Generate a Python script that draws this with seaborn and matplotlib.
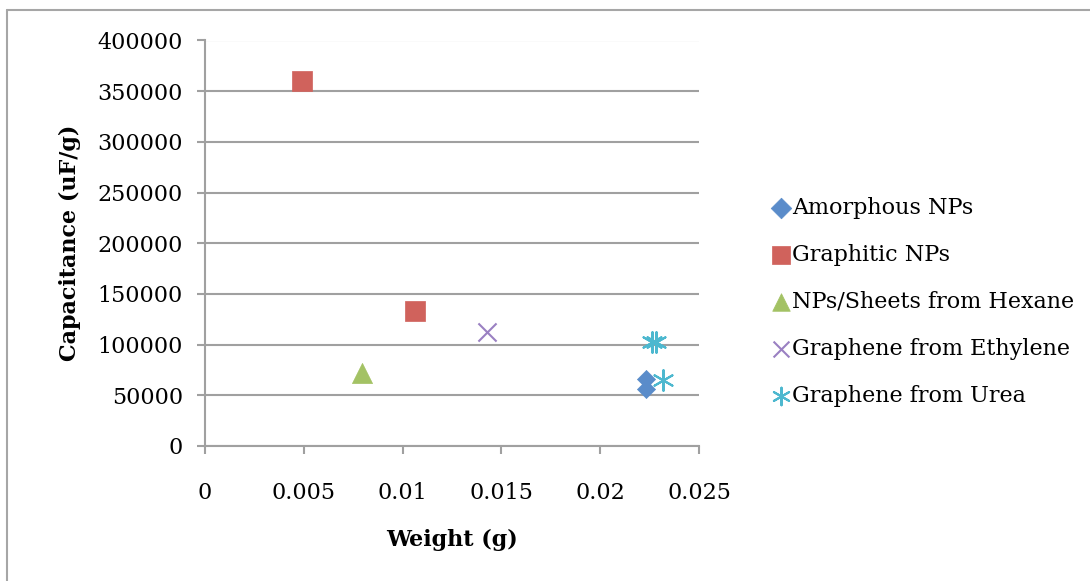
import matplotlib
matplotlib.use("Agg")
import matplotlib.pyplot as plt
import seaborn as sns
import pandas as pd
from matplotlib.lines import Line2D

# Sample series: weight (g) vs capacitance (uF/g)
amorphous_w = [0.02230, 0.02230]
amorphous_c = [66000, 56000]
graphitic_w = [0.00491, 0.01063]
graphitic_c = [360000, 133000]
hexane_w = [0.00795]
hexane_c = [72000]
ethylene_w = [0.01427]
ethylene_c = [112000]
urea_w = [0.02262, 0.02280, 0.02318]
urea_c = [103000, 103000, 65000]

series_names = ["Amorphous NPs", "Graphitic NPs", "NPs/Sheets from Hexane",
                "Graphene from Ethylene", "Graphene from Urea"]
x_ticks = [0, 0.005, 0.01, 0.015, 0.02, 0.025]
x_tick_labels = ["0", "0.005", "0.01", "0.015", "0.02", "0.025"]
y_ticks = [0, 50000, 100000, 150000, 200000, 250000, 300000, 350000, 400000]

sns.set_theme(style="white")
plt.rcParams["font.family"] = ["DejaVu Serif"]
plt.rcParams["text.color"] = "black"
plt.rcParams["axes.labelcolor"] = "black"

fig = plt.figure(figsize=(10.9, 5.81), dpi=100)
ax = fig.add_axes([205 / 1090, 1 - 446 / 581, (699 - 205) / 1090, (446 - 40.5) / 581])

# (x, y, colour, marker, plot size, legend size, edge width)
styles = [
    (amorphous_w, amorphous_c, "#5A8CCA", "D", 85, 110, 0.5),
    (graphitic_w, graphitic_c, "#D0625C", "s", 220, 160, 0.5),
    (hexane_w, hexane_c, "#A3C264", "^", 210, 160, 0.5),
    (ethylene_w, ethylene_c, "#9A80C2", "x", 170, 130, 1.5),
    (urea_w, urea_c, "#4DB8CF", (6, 2, 0), 220, 160, 1.5),
]

for name, (xs, ys, color, marker, size, _, lw) in zip(series_names, styles):
    df = pd.DataFrame({"Weight": xs, "Capacitance": ys})
    if marker == "x" or isinstance(marker, tuple):
        sns.scatterplot(data=df, x="Weight", y="Capacitance", ax=ax, marker=marker,
                        s=size, color=color, linewidth=lw, label=name, zorder=3)
    else:
        sns.scatterplot(data=df, x="Weight", y="Capacitance", ax=ax, marker=marker,
                        s=size, color=color, edgecolor=color, linewidth=lw,
                        label=name, zorder=3)

grid_color = "#A0A0A0"
ax.set_xlim(0, 0.025)
ax.set_ylim(0, 400000)
ax.set_xticks(x_ticks)
ax.set_xticklabels(x_tick_labels)
ax.set_yticks(y_ticks)
ax.set_yticklabels([str(v) for v in y_ticks])
ax.yaxis.grid(True, color=grid_color, linewidth=1.5)
ax.xaxis.grid(False)
ax.set_axisbelow(True)
for side in ("top", "right"):
    ax.spines[side].set_visible(False)
for side in ("left", "bottom"):
    ax.spines[side].set_color(grid_color)
    ax.spines[side].set_linewidth(1.5)
ax.tick_params(axis="both", which="major", direction="out", length=6, width=1.5,
               color=grid_color, labelsize=16, labelcolor="black",
               left=True, bottom=True)
ax.tick_params(axis="x", pad=20)
ax.tick_params(axis="y", pad=10)

ax.set_xlabel("Weight (g)", fontsize=16, fontweight="bold", labelpad=18)
ax.set_ylabel("Capacitance (uF/g)", fontsize=16, fontweight="bold", labelpad=12)

handles, labels = ax.get_legend_handles_labels()
ax.get_legend().remove()
leg = fig.legend(handles, labels, loc="center left",
                 bbox_to_anchor=(754 / 1090, 1 - 302 / 581), frameon=False,
                 fontsize=16, handletextpad=-0.2, labelspacing=1.12, borderpad=0,
                 handlelength=1.4)
for handle, style in zip(leg.legend_handles, styles):
    handle.set_sizes([style[5]])

# Chart frame: left and top edges
frame_color = "#A6A6A6"
fig.add_artist(Line2D([7 / 1090, 7 / 1090], [0, 1 - 10 / 581],
                      transform=fig.transFigure, color=frame_color, linewidth=1.5))
fig.add_artist(Line2D([7 / 1090, 1], [1 - 10 / 581, 1 - 10 / 581],
                      transform=fig.transFigure, color=frame_color, linewidth=1.5))

fig.savefig("out.png", dpi=100)
